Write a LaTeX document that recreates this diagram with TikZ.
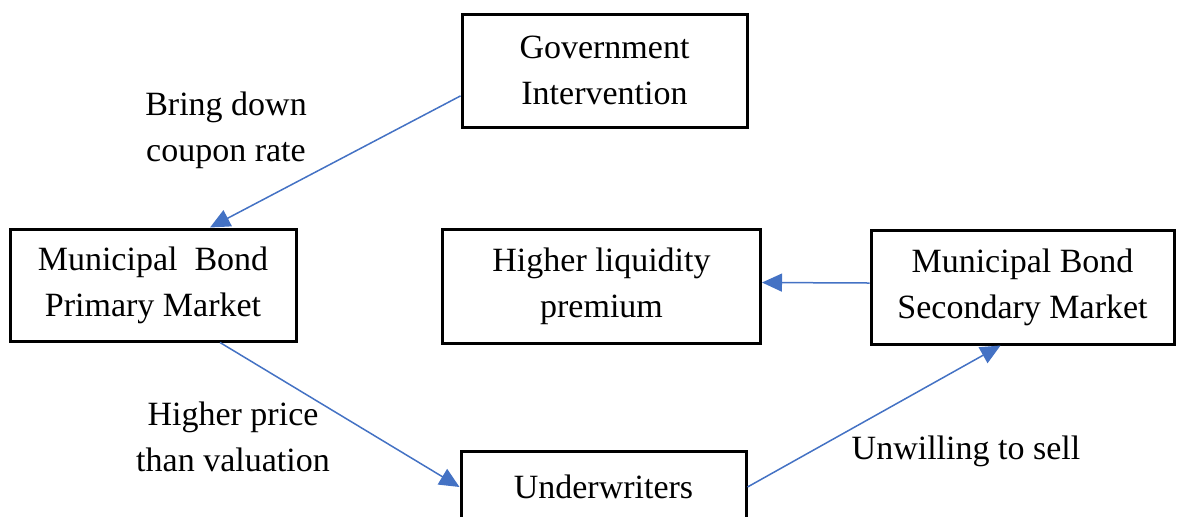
\documentclass[tikz,border=0pt]{standalone}
\usepackage{fontspec}
\setmainfont{Liberation Serif}
\usetikzlibrary{arrows.meta,calc}

\definecolor{linkblue}{RGB}{68,114,196}
\tikzstyle{block}=[rectangle, draw, line width=1.5pt, inner sep=0pt, align=center, font=\fontsize{17}{23}\selectfont]
\tikzstyle{tag}=[align=center, inner sep=0pt, font=\fontsize{17}{23}\selectfont]
\tikzstyle{link}=[draw=linkblue, line width=0.75pt, -{Triangle[length=10pt,width=9pt]}, fill=linkblue]

\begin{document}
\begin{tikzpicture}[x=0.5pt,y=-0.5pt]
\useasboundingbox (0,0) rectangle (1177,516);

\node[block, minimum width=142.5pt, minimum height=56.5pt] (gov) at (604.5,70.5) {Government\\Intervention};
\node[block, minimum width=143pt, minimum height=56pt] (prim) at (153,285) {Municipal\ \ Bond\\Primary Market};
\node[block, minimum width=159pt, minimum height=57pt] (liq) at (601.5,286.5) {Higher liquidity\\premium};
\node[block, minimum width=151.5pt, minimum height=57pt] (sec) at (1022.5,287) {Municipal Bond\\Secondary Market};
\node[block, minimum width=142.5pt, minimum height=36pt] (und) at (603.5,487) {Underwriters};

\node[tag] (t1) at (226,130) {Bring down\\coupon rate};
\node[tag] (t2) at (233,437) {Higher price\\than valuation};
\node[tag] (t3) at (966,451) {Unwilling to sell};

\draw[link] (gov.190) -- ($(prim.north)+(57,0)$);
\draw[link] ($(prim.south)+(67,0)$) -- (und.west);
\draw[link] (und.east) -- ($(sec.south)+(-22,0)$);
\draw[link] ($(sec.west)+(0,-4)$) -- ($(liq.east)+(0,-4)$);
\end{tikzpicture}
\end{document}
